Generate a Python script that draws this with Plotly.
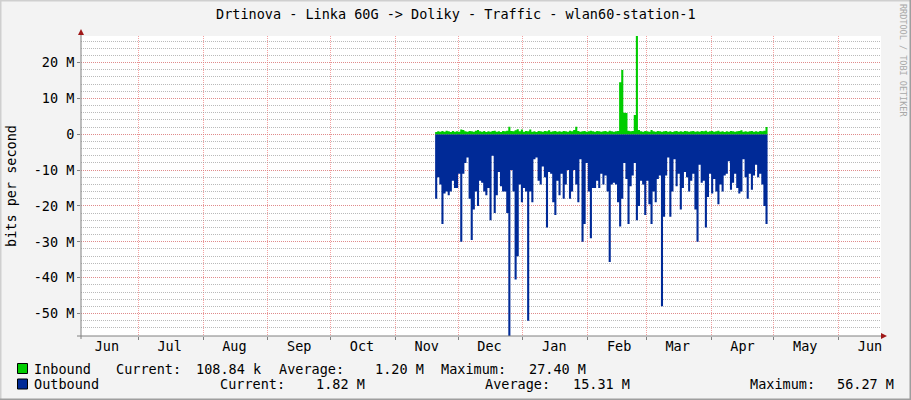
import plotly.graph_objects as go
import pandas as pd

# ---------------- data ----------------
title_text = "Drtinova - Linka 60G -> Doliky - Traffic - wlan60-station-1"
y_title = "bits per second"
watermark = "RRDTOOL / TOBI OETIKER"

data_start = "2014-11-20"   # first daily sample
x_range = ["2014-06-03 15:00", "2015-06-21 06:00"]

# daily average, Mbit/s
inbound = [
    0.6, 0.8, 0.7, 0.9, 0.7, 1.0, 0.8, 0.6, 0.9, 0.7,
    0.8, 0.7, 1.3, 1.2, 0.8, 0.7, 0.9, 0.8, 0.7, 1.0,
    1.2, 0.8, 0.7, 0.9, 0.6, 0.8, 0.7, 0.9, 1.0, 0.7,
    0.8, 0.6, 0.9, 0.8, 1.0, 2.1, 0.9, 0.8, 1.1, 1.4,
    0.8, 1.3, 0.7, 0.9, 0.8, 1.3, 0.7, 0.8, 0.6, 0.9,
    0.8, 0.7, 0.9, 0.8, 1.1, 0.7, 0.8, 0.9, 0.7, 0.8,
    0.7, 0.9, 0.8, 0.7, 1.0, 0.8, 1.2, 2.1, 0.9, 0.7,
    0.8, 0.9, 0.7, 0.8, 1.0, 0.8, 0.7, 0.9, 0.8, 0.7,
    0.8, 0.9, 0.7, 1.0, 0.8, 0.7, 0.8, 0.9, 14.5, 17.9,
    6.0, 5.9, 1.0, 0.8, 0.9, 5.4, 27.4, 1.2, 0.8, 0.7,
    0.9, 0.8, 0.7, 1.2, 0.8, 0.7, 0.9, 0.8, 0.7, 0.8,
    0.9, 0.7, 0.8, 0.6, 0.8, 0.9, 0.7, 0.8, 0.7, 0.9,
    0.8, 0.7, 0.8, 0.9, 0.7, 0.8, 0.7, 0.9, 0.8, 1.0,
    0.7, 0.8, 0.9, 0.7, 0.8, 1.0, 0.7, 0.8, 0.6, 0.8,
    0.7, 0.9, 0.8, 0.7, 0.8, 0.9, 1.1, 0.7, 0.8, 0.7,
    0.8, 0.9, 0.7, 0.8, 0.7, 0.9, 0.8, 1.0, 2.0,
]
outbound = [
    18, 12, 14, 25, 16.5, 16, 17, 16, 13, 15,
    15, 11, 30, 11, 8, 6.5, 18, 29.5, 21, 16,
    20, 13, 13.5, 16, 17, 15, 24, 6, 22, 17,
    10.5, 14.5, 16, 16, 22, 56.27, 10, 16, 40.5, 34,
    14, 19, 15, 16, 52, 16, 19, 7, 6.5, 13,
    14, 9, 12, 26, 10.5, 11, 19, 22.5, 13, 17,
    11, 18, 14, 10, 18, 16, 10, 14, 19, 7,
    30, 25, 8, 16, 29, 15, 15, 13, 15, 11,
    14, 11.5, 16, 35.6, 14, 13.5, 14, 19, 25.7, 18,
    8, 12.5, 25, 14.5, 11.5, 8, 24, 20, 13, 14,
    22.5, 13, 19.5, 25, 16, 19, 12.5, 11.5, 48, 23,
    11.5, 6.5, 23, 16, 7, 14.5, 11, 21, 15, 10.5,
    12, 16, 13, 11, 21, 30, 8.5, 13.5, 13, 26,
    17.5, 11, 16.5, 12.5, 16, 19.5, 14, 16, 11.5, 11,
    7.5, 15.5, 13.5, 11, 15, 16.5, 16, 7, 12, 18,
    11, 15.5, 11.5, 8.5, 12, 11, 14, 20, 25,
]

month_labels = ["Jun", "Jul", "Aug", "Sep", "Oct", "Nov", "Dec",
                "Jan", "Feb", "Mar", "Apr", "May", "Jun"]
month_first = "2014-06-01"

y_range = [-56.27, 27.40]
y_tickvals = [-50, -40, -30, -20, -10, 0, 10, 20]
y_ticktext = ["-50 M", "-40 M", "-30 M", "-20 M", "-10 M", "0", "10 M", "20 M"]

legend_rows = [
    ("Inbound", "#00CC00",
     [("Current:", 116), ("108.84 k", 196), ("Average:", 279),
      ("1.20 M", 375), ("Maximum:", 441), ("27.40 M", 529)]),
    ("Outbound", "#002A97",
     [("Current:", 220), ("1.82 M", 316), ("Average:", 485),
      ("15.31 M", 573), ("Maximum:", 750), ("56.27 M", 837)]),
]

# ---------------- geometry ----------------
W, H = 911, 400
L, R, T, B = 81, 881, 36, 336   # plot area in px
FONT = "DejaVu Sans Mono"


def px(x):
    return (x - L) / (R - L)


def py(y):
    return (B - y) / (B - T)


dates = pd.date_range(data_start, periods=len(inbound) + 1, freq="D")
in_y = inbound + [inbound[-1]]
out_y = [-v for v in outbound] + [-outbound[-1]]

month_starts = pd.date_range(month_first, periods=len(month_labels), freq="MS")
label_pos = month_starts + pd.Timedelta(days=15)

fig = go.Figure()
fig.add_trace(go.Scatter(x=dates, y=out_y, mode="lines", line=dict(width=0, shape="hv"),
                         fill="tozeroy", fillcolor="#002A97", hoverinfo="skip", showlegend=False))
fig.add_trace(go.Scatter(x=dates, y=in_y, mode="lines", line=dict(width=0, shape="hv"),
                         fill="tozeroy", fillcolor="#00CC00", hoverinfo="skip", showlegend=False))

grid_major = "rgba(240,120,120,0.7)"
grid_minor = "rgba(140,140,140,0.6)"

fig.update_layout(
    width=W, height=H, autosize=False,
    margin=dict(l=L, r=W - R, t=T, b=H - B, pad=0),
    paper_bgcolor="#F3F3F3", plot_bgcolor="#FFFFFF",
    font=dict(family=FONT, size=13, color="#000000"),
    showlegend=False,
    xaxis=dict(
        type="date", range=x_range, showgrid=False, zeroline=False, showline=False,
        tickmode="array", tickvals=label_pos, ticktext=month_labels,
        ticks="", tickfont=dict(family=FONT, size=13.5, color="#000"),
        minor=dict(tickmode="array", tickvals=month_starts, showgrid=True,
                   gridcolor=grid_major, griddash="1px,1px", gridwidth=1,
                   ticks="outside", ticklen=3, tickcolor="#808080"),
    ),
    yaxis=dict(
        range=y_range, zeroline=False, showline=False,
        tickmode="array", tickvals=y_tickvals, ticktext=y_ticktext,
        showgrid=True, gridcolor=grid_major, griddash="1px,1px", gridwidth=1,
        ticks="outside", ticklen=3, tickcolor="#808080",
        tickfont=dict(family=FONT, size=13.5, color="#000"),
        minor=dict(dtick=2, tick0=0, showgrid=True, gridcolor=grid_minor,
                   griddash="1px,1px", gridwidth=1),
    ),
)

shapes = []
# frame shading
shapes.append(dict(type="line", xref="paper", yref="paper", x0=px(0), x1=px(W), y0=py(0.5), y1=py(0.5),
                   line=dict(color="#CFCFCF", width=2)))
shapes.append(dict(type="line", xref="paper", yref="paper", x0=px(0.5), x1=px(0.5), y0=py(0), y1=py(H),
                   line=dict(color="#CFCFCF", width=2)))
shapes.append(dict(type="line", xref="paper", yref="paper", x0=px(0), x1=px(W), y0=py(H - 0.5), y1=py(H - 0.5),
                   line=dict(color="#9E9E9E", width=2)))
shapes.append(dict(type="line", xref="paper", yref="paper", x0=px(W - 0.5), x1=px(W - 0.5), y0=py(0), y1=py(H),
                   line=dict(color="#9E9E9E", width=2)))
# axes
shapes.append(dict(type="line", xref="paper", yref="paper", x0=px(77), x1=px(882), y0=0, y1=0,
                   line=dict(color="#808080", width=1)))
shapes.append(dict(type="line", xref="paper", yref="paper", x0=0, x1=0, y0=py(339), y1=py(34),
                   line=dict(color="#808080", width=1)))
shapes.append(dict(type="path", xref="paper", yref="paper",
                   path=f"M {px(881)},{py(333)} L {px(887)},{py(336)} L {px(881)},{py(339)} Z",
                   fillcolor="#A01818", line=dict(width=0)))
shapes.append(dict(type="path", xref="paper", yref="paper",
                   path=f"M {px(78)},{py(35)} L {px(81)},{py(29)} L {px(84)},{py(35)} Z",
                   fillcolor="#A01818", line=dict(width=0)))

annotations = []
annotations.append(dict(text=title_text, xref="paper", yref="paper", x=px(455.5), y=py(14),
                        xanchor="center", yanchor="middle", showarrow=False,
                        font=dict(family=FONT, size=13.5, color="#000")))
annotations.append(dict(text=y_title, xref="paper", yref="paper", x=px(11), y=py(186),
                        xanchor="center", yanchor="middle", showarrow=False, textangle=-90,
                        font=dict(family=FONT, size=13.5, color="#000")))
annotations.append(dict(text=watermark, xref="paper", yref="paper", x=px(903), y=py(60),
                        xanchor="center", yanchor="middle", showarrow=False, textangle=90,
                        font=dict(family=FONT, size=8.5, color="#A8A8A8")))

row_y = [368.5, 384]
for (name, color, items), yc in zip(legend_rows, row_y):
    shapes.append(dict(type="rect", xref="paper", yref="paper",
                       x0=px(17.5), x1=px(27.5), y0=py(yc - 5), y1=py(yc + 5),
                       fillcolor=color, line=dict(color="#000000", width=1)))
    annotations.append(dict(text=name, xref="paper", yref="paper", x=px(32), y=py(yc),
                            xanchor="left", yanchor="middle", showarrow=False,
                            font=dict(family=FONT, size=13.5, color="#000")))
    for txt, xpos in items:
        annotations.append(dict(text=txt, xref="paper", yref="paper", x=px(xpos - 2), y=py(yc),
                                xanchor="left", yanchor="middle", showarrow=False,
                                font=dict(family=FONT, size=13.5, color="#000")))

fig.update_layout(shapes=shapes, annotations=annotations)
fig.write_html("out.html", config={"displayModeBar": False},
               post_script="document.body.style.margin='0';document.body.style.overflow='hidden';")
